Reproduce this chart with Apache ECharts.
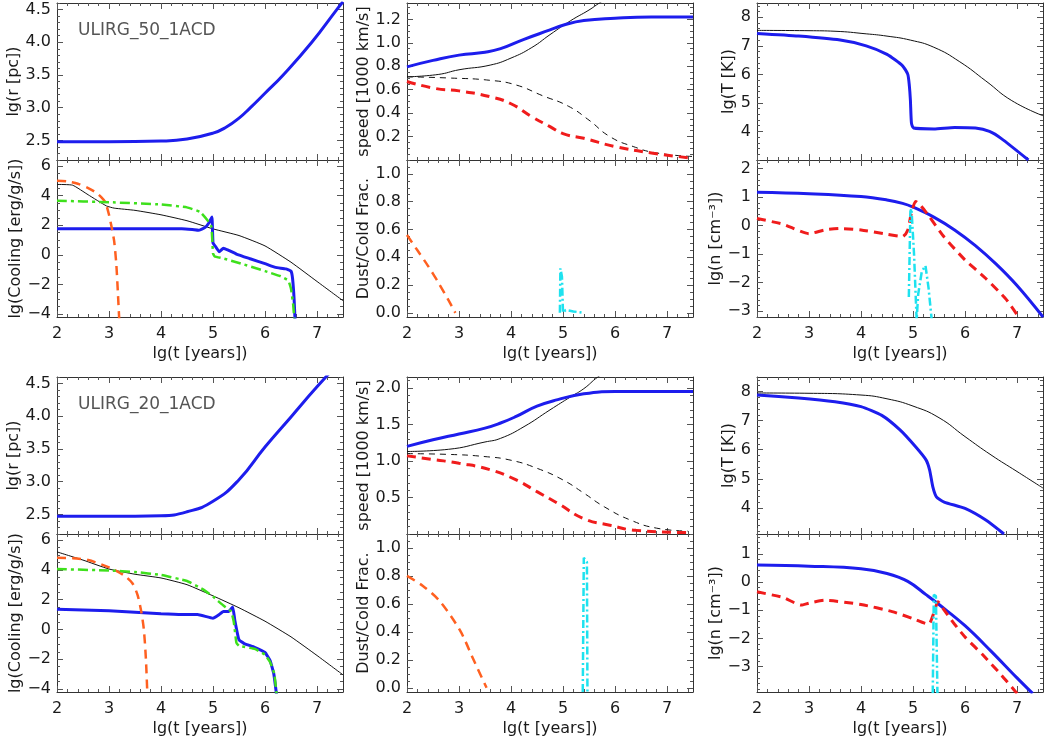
<!DOCTYPE html>
<html>
<head>
<meta charset="utf-8">
<title>ULIRG_50_1ACD / ULIRG_20_1ACD</title>
<script src="https://cdn.jsdelivr.net/npm/echarts@6/dist/echarts.min.js"></script>
<style>
html, body { margin: 0; padding: 0; background: #fff; }
#main { width: 1044px; height: 740px; }
</style>
</head>
<body>
<div id="main"></div>
<script>
// shared x axis, lg(t [years])
var tMin = 2, tMax = 7.5;
var tTicks = [2, 3, 4, 5, 6, 7];

// y tick labels
var rTicks = [2.5, 3.0, 3.5, 4.0, 4.5];
var coolTicks = [-4, -2, 0, 2, 4, 6];
var spd50Ticks = [0.2, 0.4, 0.6, 0.8, 1.0, 1.2];
var spd20Ticks = [0.5, 1.0, 1.5, 2.0];
var dustTicks = [0.0, 0.2, 0.4, 0.6, 0.8, 1.0];
var tempTicks = [4, 5, 6, 7, 8];
var n50Ticks = [-3, -2, -1, 0, 1, 2];
var n20Ticks = [-3, -2, -1, 0, 1];

// ---- ULIRG_50_1ACD ----
var r50T = [2, 3, 4, 4.5, 5, 5.25, 5.5, 5.72, 6.0, 6.35, 6.9, 7.38, 7.5];
var r50 = [2.48, 2.48, 2.49, 2.52, 2.61, 2.7, 2.84, 3.0, 3.22, 3.5, 4.0, 4.5, 4.62];

var cool50BlackT = [2, 2.3, 2.6, 2.95, 3.1, 3.5, 4, 4.5, 5, 5.5, 6, 6.5, 7, 7.5];
var cool50Black = [4.75, 4.7, 4.05, 3.3, 3.15, 3.0, 2.7, 2.3, 1.75, 1.3, 0.6, -0.5, -1.8, -3.1];
var cool50OrangeT = [2, 2.2, 2.4, 2.6, 2.75, 2.85, 2.93, 3.0, 3.06, 3.1, 3.14, 3.17, 3.2];
var cool50Orange = [5.0, 4.95, 4.8, 4.5, 4.2, 3.9, 3.55, 2.7, 1.7, 0.9, -0.6, -2.5, -4.6];
var cool50GreenT = [2, 3, 4, 4.5, 4.75, 4.9, 4.97, 5.0, 5.03, 5.2, 5.5, 6.0, 6.3, 6.45, 6.5, 6.54, 6.57];
var cool50Green = [3.65, 3.55, 3.4, 3.2, 2.9, 2.3, 1.9, 0.1, -0.1, -0.25, -0.55, -1.1, -1.45, -1.75, -2.3, -3.3, -4.6];
var cool50BlueT = [2, 3, 4, 4.4, 4.6, 4.72, 4.85, 4.93, 4.98, 5.0, 5.05, 5.12, 5.2, 5.3, 5.45, 5.7, 6.0, 6.2, 6.4, 6.5, 6.53, 6.56, 6.58];
var cool50Blue = [1.75, 1.75, 1.75, 1.75, 1.7, 1.65, 1.85, 2.2, 2.55, 0.8, 0.55, 0.2, 0.45, 0.3, 0.05, -0.25, -0.6, -0.85, -0.95, -1.1, -1.6, -3.0, -4.6];

var spd50BlueT = [2, 2.5, 3, 3.5, 3.8, 4.25, 4.75, 5, 5.4, 6, 6.7, 7.5];
var spd50Blue = [0.795, 0.85, 0.895, 0.92, 0.95, 1.03, 1.11, 1.15, 1.19, 1.21, 1.22, 1.22];
var spd50BlackT = [2, 2.6, 3, 3.6, 4, 4.4, 4.75, 5.15, 5.5, 5.7, 6.0];
var spd50Black = [0.71, 0.73, 0.77, 0.81, 0.87, 0.96, 1.07, 1.19, 1.28, 1.34, 1.42];
var spd50DashT = [2, 2.8, 3.6, 4.1, 4.6, 5.1, 5.5, 5.9, 6.35, 6.8, 7.5];
var spd50Dash = [0.71, 0.7, 0.68, 0.64, 0.55, 0.46, 0.34, 0.2, 0.115, 0.06, 0.03];
var spd50RedT = [2, 2.55, 3, 3.6, 4, 4.4, 4.75, 5, 5.4, 6, 6.7, 7.5];
var spd50Red = [0.67, 0.61, 0.59, 0.54, 0.48, 0.37, 0.285, 0.225, 0.185, 0.115, 0.06, 0.015];

var dust50OrangeT = [2, 2.2, 2.4, 2.6, 2.8, 2.93];
var dust50Orange = [0.56, 0.45, 0.34, 0.22, 0.09, 0.0];
var dust50CyanT = [4.94, 4.95, 4.98, 5.0, 5.05, 5.2, 5.4];
var dust50Cyan = [0.0, 0.32, 0.26, 0.0, 0.02, 0.01, 0.0];

var temp50BlackT = [2, 3, 3.5, 4.1, 4.5, 4.95, 5.4, 5.9, 6.4, 6.9, 7.5];
var temp50Black = [7.54, 7.53, 7.51, 7.42, 7.34, 7.2, 6.95, 6.44, 5.77, 5.08, 4.55];
var temp50BlueT = [2, 2.8, 3.6, 4.1, 4.5, 4.8, 4.9, 4.93, 4.95, 4.97, 5.01, 5.4, 5.8, 6.2, 6.47, 6.7, 7.22];
var temp50Blue = [7.43, 7.34, 7.2, 7.0, 6.7, 6.3, 6.0, 5.6, 5.1, 4.3, 4.12, 4.09, 4.14, 4.12, 4.0, 3.75, 3.0];

var n50BlueT = [2, 3, 4, 4.5, 4.8, 5.0, 5.4, 5.8, 6.2, 6.6, 7.0, 7.5];
var n50Blue = [1.17, 1.12, 1.02, 0.9, 0.78, 0.65, 0.3, -0.15, -0.7, -1.35, -2.1, -3.2];
var n50RedT = [2, 2.5, 3.0, 3.3, 3.6, 4.0, 4.5, 4.8, 4.9, 4.97, 5.05, 5.15, 5.3, 5.6, 6.0, 6.4, 6.8, 7.05];
var n50Red = [0.25, 0.05, -0.28, -0.15, -0.1, -0.15, -0.3, -0.38, -0.15, 0.45, 0.85, 0.7, 0.35, -0.4, -1.2, -1.85, -2.6, -3.25];
var n50CyanT = [4.92, 4.95, 4.97, 5.02, 5.07, 5.1, 5.17, 5.24, 5.3, 5.36];
var n50Cyan = [-2.5, 0.5, 0.6, -1.0, -3.3, -2.4, -1.6, -1.4, -2.2, -3.3];

// ---- ULIRG_20_1ACD ----
var r20T = [2, 3, 4, 4.5, 5, 5.5, 6, 6.5, 7, 7.5];
var r20 = [2.47, 2.47, 2.48, 2.54, 2.7, 3.03, 3.53, 3.99, 4.45, 4.88];

var cool20BlackT = [2, 2.5, 3.0, 3.5, 4.0, 4.5, 5.0, 5.5, 6.0, 6.5, 7.0, 7.5];
var cool20Black = [5.2, 4.65, 4.05, 3.7, 3.45, 3.0, 2.25, 1.45, 0.55, -0.5, -1.75, -3.05];
var cool20OrangeT = [2, 2.3, 2.6, 2.9, 3.1, 3.3, 3.45, 3.55, 3.62, 3.67, 3.71, 3.74];
var cool20Orange = [4.8, 4.78, 4.65, 4.3, 4.0, 3.6, 3.1, 2.3, 1.2, 0.0, -2.0, -4.6];
var cool20GreenT = [2, 3, 3.5, 4.0, 4.5, 4.8, 5.0, 5.2, 5.35, 5.4, 5.45, 5.5, 5.8, 6.0, 6.1, 6.18, 6.23];
var cool20Green = [4.05, 3.95, 3.85, 3.65, 3.25, 2.7, 2.2, 1.6, 1.2, 0.5, -0.9, -1.1, -1.3, -1.7, -2.2, -3.0, -4.6];
var cool20BlueT = [2, 3, 3.5, 4.0, 4.4, 4.7, 5.0, 5.1, 5.2, 5.3, 5.38, 5.42, 5.5, 5.6, 5.8, 6.0, 6.1, 6.17, 6.23];
var cool20Blue = [1.35, 1.25, 1.15, 1.05, 1.0, 1.0, 0.75, 0.95, 1.2, 1.2, 1.5, 0.6, -0.7, -0.95, -1.2, -1.55, -2.1, -3.0, -4.6];

var spd20BlueT = [2, 2.5, 3, 3.5, 3.8, 4.1, 4.5, 4.9, 5.4, 6, 7.5];
var spd20Blue = [1.2, 1.29, 1.37, 1.45, 1.52, 1.61, 1.75, 1.84, 1.92, 1.95, 1.95];
var spd20BlackT = [2, 2.8, 3.5, 3.8, 4.25, 4.75, 5.15, 5.4, 5.67, 6.0];
var spd20Black = [1.13, 1.16, 1.26, 1.31, 1.47, 1.7, 1.88, 1.99, 2.15, 2.3];
var spd20DashT = [2, 2.8, 3.5, 4.0, 4.5, 5.0, 5.4, 5.8, 6.3, 6.8, 7.4];
var spd20Dash = [1.1, 1.09, 1.06, 1.01, 0.9, 0.74, 0.56, 0.37, 0.19, 0.08, 0.04];
var spd20RedT = [2, 2.5, 3, 3.6, 4.1, 4.5, 4.9, 5.4, 5.9, 6.4, 7.4];
var spd20Red = [1.07, 1.02, 0.97, 0.88, 0.74, 0.58, 0.42, 0.21, 0.12, 0.05, 0.02];

var dust20OrangeT = [2, 2.3, 2.63, 3.02, 3.28, 3.53];
var dust20Orange = [0.8, 0.73, 0.62, 0.41, 0.2, 0.0];
var dust20CyanT = [5.38, 5.4, 5.43, 5.46, 5.47];
var dust20Cyan = [-0.03, 0.93, 0.93, 0.9, -0.03];

var temp20BlackT = [2, 3, 4, 4.5, 5, 5.5, 6, 6.5, 7, 7.5];
var temp20Black = [7.95, 7.94, 7.88, 7.75, 7.5, 7.1, 6.45, 5.82, 5.25, 4.68];
var temp20BlueT = [2, 2.8, 3.5, 4.0, 4.4, 4.75, 5.05, 5.25, 5.32, 5.38, 5.45, 5.6, 6.0, 6.4, 6.75];
var temp20Blue = [7.88, 7.78, 7.65, 7.48, 7.18, 6.68, 6.1, 5.65, 5.3, 4.73, 4.38, 4.2, 3.98, 3.58, 3.1];

var n20BlueT = [2, 3, 4, 4.5, 4.9, 5.25, 5.5, 6.0, 6.5, 7.0, 7.3];
var n20Blue = [0.6, 0.56, 0.47, 0.3, 0.02, -0.45, -0.8, -1.55, -2.45, -3.4, -3.95];
var n20RedT = [2, 2.5, 2.85, 3.0, 3.3, 4.0, 4.6, 5.0, 5.3, 5.4, 5.48, 5.6, 5.8, 6.0, 6.35, 6.7, 7.0];
var n20Red = [-0.35, -0.55, -0.82, -0.75, -0.65, -0.8, -1.05, -1.3, -1.5, -1.1, -0.7, -1.0, -1.5, -1.95, -2.6, -3.3, -3.95];
var n20CyanT = [5.38, 5.4, 5.44, 5.47];
var n20Cyan = [-3.95, -0.45, -0.5, -3.95];

// line styles
var BLUE = {color: '#1d1ded', width: 3, type: 'solid'};
var BLACK = {color: '#111111', width: 1, type: 'solid'};
var BLACKDASH = {color: '#111111', width: 1, type: [6, 5]};
var RED = {color: '#f01c1c', width: 3, type: [9, 6]};
var ORANGE = {color: '#ff6020', width: 2.5, type: [9, 6]};
var GREEN = {color: '#3ee01c', width: 2.5, type: [10, 4, 3, 4]};
var CYAN = {color: '#1ee2ef', width: 2.5, type: [8, 3, 2, 3]};

var FONT = 'DejaVu Sans';
var colLeft = [57, 407, 757];
var colNameGap = [33, 23, 19];
var rowBox = [[3, 157], [160, 157], [377, 157], [534, 158]];

function ln(ts, vs, st, smooth) {
  return {t: ts, v: vs, st: st, smooth: smooth};
}

var panels = [
  {row: 0, col: 0, min: 2.2, max: 4.6, ticks: rTicks, minor: 0.1, dec: 1, name: 'lg(r [pc])',
    lines: [ln(r50T, r50, BLUE, 0.5)]},
  {row: 1, col: 0, min: -4.2, max: 6.4, ticks: coolTicks, minor: 0.5, dec: 0, name: 'lg(Cooling [erg/g/s])',
    lines: [ln(cool50BlackT, cool50Black, BLACK, 0.15), ln(cool50BlueT, cool50Blue, BLUE, 0.1),
      ln(cool50OrangeT, cool50Orange, ORANGE, 0.25), ln(cool50GreenT, cool50Green, GREEN, 0.1)]},
  {row: 0, col: 1, min: 0, max: 1.34, ticks: spd50Ticks, minor: 0.05, dec: 1, name: 'speed [1000 km/s]',
    lines: [ln(spd50BlackT, spd50Black, BLACK, 0.5), ln(spd50DashT, spd50Dash, BLACKDASH, 0.5),
      ln(spd50BlueT, spd50Blue, BLUE, 0.5), ln(spd50RedT, spd50Red, RED, 0.5)]},
  {row: 1, col: 1, min: -0.03, max: 1.1, ticks: dustTicks, minor: 0.05, dec: 1, name: 'Dust/Cold Frac.',
    lines: [ln(dust50OrangeT, dust50Orange, ORANGE, 0.3), ln(dust50CyanT, dust50Cyan, CYAN, 0)]},
  {row: 0, col: 2, min: 3.0, max: 8.5, ticks: tempTicks, minor: 0.2, dec: 0, name: 'lg(T [K])',
    lines: [ln(temp50BlackT, temp50Black, BLACK, 0.5), ln(temp50BlueT, temp50Blue, BLUE, 0.2)]},
  {row: 1, col: 2, min: -3.2, max: 2.3, ticks: n50Ticks, minor: 0.2, dec: 0, name: 'lg(n [cm\u207B\u00B3])',
    lines: [ln(n50BlueT, n50Blue, BLUE, 0.4), ln(n50RedT, n50Red, RED, 0.2), ln(n50CyanT, n50Cyan, CYAN, 0)]},

  {row: 2, col: 0, min: 2.2, max: 4.6, ticks: rTicks, minor: 0.1, dec: 1, name: 'lg(r [pc])',
    lines: [ln(r20T, r20, BLUE, 0.5)]},
  {row: 3, col: 0, min: -4.2, max: 6.4, ticks: coolTicks, minor: 0.5, dec: 0, name: 'lg(Cooling [erg/g/s])',
    lines: [ln(cool20BlackT, cool20Black, BLACK, 0.15), ln(cool20BlueT, cool20Blue, BLUE, 0.1),
      ln(cool20OrangeT, cool20Orange, ORANGE, 0.25), ln(cool20GreenT, cool20Green, GREEN, 0.1)]},
  {row: 2, col: 1, min: 0, max: 2.15, ticks: spd20Ticks, minor: 0.1, dec: 1, name: 'speed [1000 km/s]',
    lines: [ln(spd20BlackT, spd20Black, BLACK, 0.5), ln(spd20DashT, spd20Dash, BLACKDASH, 0.5),
      ln(spd20BlueT, spd20Blue, BLUE, 0.5), ln(spd20RedT, spd20Red, RED, 0.5)]},
  {row: 3, col: 1, min: -0.03, max: 1.1, ticks: dustTicks, minor: 0.05, dec: 1, name: 'Dust/Cold Frac.',
    lines: [ln(dust20OrangeT, dust20Orange, ORANGE, 0.3), ln(dust20CyanT, dust20Cyan, CYAN, 0)]},
  {row: 2, col: 2, min: 3.1, max: 8.5, ticks: tempTicks, minor: 0.2, dec: 0, name: 'lg(T [K])',
    lines: [ln(temp20BlackT, temp20Black, BLACK, 0.5), ln(temp20BlueT, temp20Blue, BLUE, 0.2)]},
  {row: 3, col: 2, min: -3.9, max: 1.7, ticks: n20Ticks, minor: 0.2, dec: 0, name: 'lg(n [cm\u207B\u00B3])',
    lines: [ln(n20BlueT, n20Blue, BLUE, 0.4), ln(n20RedT, n20Red, RED, 0.2), ln(n20CyanT, n20Cyan, CYAN, 0)]}
];

function zip(ts, vs) {
  var out = [];
  for (var i = 0; i < ts.length; i++) out.push([ts[i], vs[i]]);
  return out;
}

// tick positions every `s` between a and b (decoration only)
function steps(a, b, s) {
  var out = [];
  var k0 = Math.ceil(a / s - 1e-6), k1 = Math.floor(b / s + 1e-6);
  for (var k = k0; k <= k1; k++) out.push(+(k * s).toFixed(4));
  return out;
}

function fmt(dec) {
  return function (v) { return v.toFixed(dec).replace('-', '\u2212'); };
}

var textStyle = {fontFamily: FONT, fontSize: 16, color: '#1a1a1a'};

function axis(g, pos, lo, hi, ticks, len, labels, dec) {
  return {
    type: 'value', gridIndex: g, position: pos, min: lo, max: hi,
    splitLine: {show: false},
    axisLine: {show: len > 3, onZero: false, lineStyle: {color: '#333', width: 1}},
    axisTick: {show: true, inside: true, length: len, customValues: ticks, lineStyle: {color: '#555', width: 1}},
    axisLabel: {show: !!labels, customValues: ticks, formatter: fmt(dec), fontFamily: FONT, fontSize: 16, color: '#1a1a1a'}
  };
}

var grids = [], xAxes = [], yAxes = [], series = [];
var tMinor = steps(tMin, tMax, 0.2);

panels.forEach(function (p, g) {
  var box = rowBox[p.row];
  grids.push({left: colLeft[p.col], top: box[0], width: 286, height: box[1], containLabel: false, outerBoundsMode: 'none'});

  var bottomRow = p.row === 1 || p.row === 3;
  var xb = axis(g, 'bottom', tMin, tMax, tTicks, 6, bottomRow, 0);
  xb.axisLabel.margin = 9;
  if (bottomRow) {
    xb.name = 'lg(t [years])';
    xb.nameLocation = 'middle';
    xb.nameGap = 29;
    xb.nameTextStyle = textStyle;
  }
  xAxes.push(xb,
    axis(g, 'top', tMin, tMax, tTicks, 6, false, 0),
    axis(g, 'bottom', tMin, tMax, tMinor, 3, false, 0),
    axis(g, 'top', tMin, tMax, tMinor, 3, false, 0));

  var yMinor = steps(p.min, p.max, p.minor);
  var yl = axis(g, 'left', p.min, p.max, p.ticks, 6, true, p.dec);
  yl.axisLabel.margin = 6;
  yl.name = p.name;
  yl.nameLocation = 'middle';
  yl.nameGap = colNameGap[p.col];
  yl.nameTextStyle = textStyle;
  yAxes.push(yl,
    axis(g, 'right', p.min, p.max, p.ticks, 6, false, p.dec),
    axis(g, 'left', p.min, p.max, yMinor, 3, false, p.dec),
    axis(g, 'right', p.min, p.max, yMinor, 3, false, p.dec));

  p.lines.forEach(function (l) {
    series.push({
      type: 'line', xAxisIndex: 4 * g, yAxisIndex: 4 * g,
      data: zip(l.t, l.v),
      showSymbol: false, symbol: 'none', silent: true, clip: true,
      smooth: l.smooth,
      lineStyle: {color: l.st.color, width: l.st.width, type: l.st.type}
    });
  });
});

var chart = echarts.init(document.getElementById('main'), null, {width: 1044, height: 740});
chart.setOption({
  animation: false,
  backgroundColor: '#fff',
  grid: grids,
  xAxis: xAxes,
  yAxis: yAxes,
  series: series,
  graphic: [
    {type: 'text', left: 78, top: 22, style: {text: 'ULIRG_50_1ACD', fontFamily: FONT, fontSize: 17, fill: '#555'}},
    {type: 'text', left: 78, top: 396, style: {text: 'ULIRG_20_1ACD', fontFamily: FONT, fontSize: 17, fill: '#555'}}
  ]
});
</script>
</body>
</html>
